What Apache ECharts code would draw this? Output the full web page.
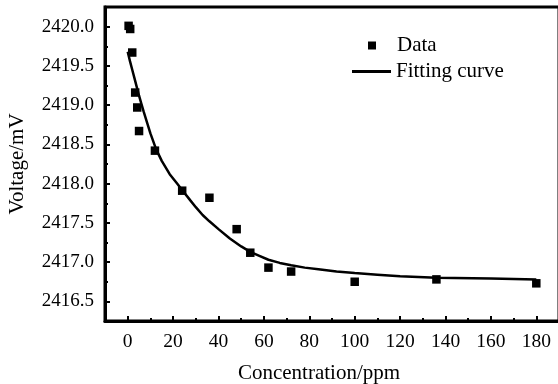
<!DOCTYPE html>
<html><head><meta charset="utf-8">
<script src="https://cdn.jsdelivr.net/npm/echarts@6/dist/echarts.min.js"></script>
<style>html,body{margin:0;padding:0;background:#fff}#c{width:558px;height:384px}</style>
</head><body><div id="c"></div>
<script>
// Measured data points
const dataX = [0.4, 1.1, 2, 3.3, 4.2, 5, 12, 24, 36, 48, 54, 62, 72, 100, 136, 180];
const dataY = [2420.01, 2419.97, 2419.67, 2419.16, 2418.97, 2418.67, 2418.42, 2417.91, 2417.82, 2417.42, 2417.12, 2416.93, 2416.88, 2416.75, 2416.78, 2416.73];
// Fitting curve
const fitX = [0, 1, 2, 3, 4, 5, 6, 7, 8.5, 10, 12.5, 15, 18.5, 21.5, 24.5, 27.5, 30, 33, 36, 40, 45, 50, 54, 58, 62, 67, 72, 78, 84, 92, 100, 110, 120, 136, 160, 180];
const fitY = [2419.68, 2419.56, 2419.45, 2419.34, 2419.23, 2419.12, 2419.02, 2418.92, 2418.78, 2418.64, 2418.44, 2418.29, 2418.12, 2418.01, 2417.90, 2417.79, 2417.70, 2417.60, 2417.52, 2417.42, 2417.30, 2417.20, 2417.13, 2417.08, 2417.03, 2416.99, 2416.96, 2416.93, 2416.91, 2416.88, 2416.86, 2416.84, 2416.82, 2416.80, 2416.79, 2416.78];
// Tick values
const xMajorTicks = [0, 20, 40, 60, 80, 100, 120, 140, 160, 180];
const xMinorTicks = [10, 30, 50, 70, 90, 110, 130, 150, 170];
const yMajorTicks = [2416.5, 2417.0, 2417.5, 2418.0, 2418.5, 2419.0, 2419.5, 2420.0];
const yMinorTicks = [2416.75, 2417.25, 2417.75, 2418.25, 2418.75, 2419.25, 2419.75];

const FONT = '"Liberation Serif", "Times New Roman", serif';
const chart = echarts.init(document.getElementById('c'), null, {renderer: 'canvas'});
const xBase = {type: 'value', min: -10, max: 190, position: 'bottom', splitLine: {show: false}};
const yBase = {type: 'value', min: 2416.25, max: 2420.25, position: 'left', splitLine: {show: false}};
chart.setOption({
  animation: false,
  backgroundColor: '#fff',
  textStyle: {fontFamily: FONT},
  grid: {left: 105, top: 7, width: 454, height: 314, show: true, borderColor: '#000', borderWidth: 3,
    containLabel: false, outerBoundsMode: 'none'},
  xAxis: [
    Object.assign({}, xBase, {
      axisLine: {show: true, onZero: false, lineStyle: {color: '#000', width: 3}},
      axisTick: {show: true, inside: true, length: 5, lineStyle: {color: '#000', width: 2}, customValues: xMajorTicks},
      axisLabel: {show: true, customValues: xMajorTicks, color: '#000', fontFamily: FONT, fontSize: 19.5, margin: 11},
      name: 'Concentration/ppm', nameLocation: 'middle', nameGap: 42,
      nameTextStyle: {color: '#000', fontFamily: FONT, fontSize: 21, padding: [0, 26, 0, 0]}
    }),
    Object.assign({}, xBase, {
      axisLine: {show: false, onZero: false},
      axisTick: {show: true, inside: true, length: 3, lineStyle: {color: '#000', width: 2}, customValues: xMinorTicks},
      axisLabel: {show: false}
    })
  ],
  yAxis: [
    Object.assign({}, yBase, {
      axisLine: {show: true, onZero: false, lineStyle: {color: '#000', width: 3}},
      axisTick: {show: true, inside: true, length: 5, lineStyle: {color: '#000', width: 2}, customValues: yMajorTicks},
      axisLabel: {show: true, customValues: yMajorTicks, color: '#000', fontFamily: FONT, fontSize: 19,
        margin: 11, formatter: v => v.toFixed(1)},
      name: 'Voltage/mV', nameLocation: 'middle', nameGap: 77,
      nameTextStyle: {color: '#000', fontFamily: FONT, fontSize: 21}
    }),
    Object.assign({}, yBase, {
      axisLine: {show: false, onZero: false},
      axisTick: {show: true, inside: true, length: 3, lineStyle: {color: '#000', width: 2}, customValues: yMinorTicks},
      axisLabel: {show: false}
    })
  ],
  legend: [
    {data: [{name: 'Data', icon: 'path://M0,0L1,0L1,1L0,1Z'}], left: 368, top: 35, padding: 0, orient: 'vertical',
      itemWidth: 40, itemHeight: 8, symbolKeepAspect: true,
      textStyle: {color: '#000', fontFamily: FONT, fontSize: 21}},
    {data: [{name: 'Fitting curve', icon: 'rect'}], left: 352, top: 61, padding: 0, orient: 'vertical',
      itemWidth: 39, itemHeight: 3,
      textStyle: {color: '#000', fontFamily: FONT, fontSize: 21}}
  ],
  series: [
    {name: 'Data', type: 'scatter', xAxisIndex: 0, yAxisIndex: 0, symbol: 'rect', symbolSize: 8.5,
      itemStyle: {color: '#000', opacity: 1}, data: dataX.map((x, i) => [x, dataY[i]])},
    {name: 'Fitting curve', type: 'line', xAxisIndex: 0, yAxisIndex: 0, symbol: 'none', showSymbol: false,
      smooth: false,
      lineStyle: {color: '#000', width: 2.5}, itemStyle: {color: '#000'},
      data: fitX.map((x, i) => [x, fitY[i]])}
  ]
});
</script></body></html>
